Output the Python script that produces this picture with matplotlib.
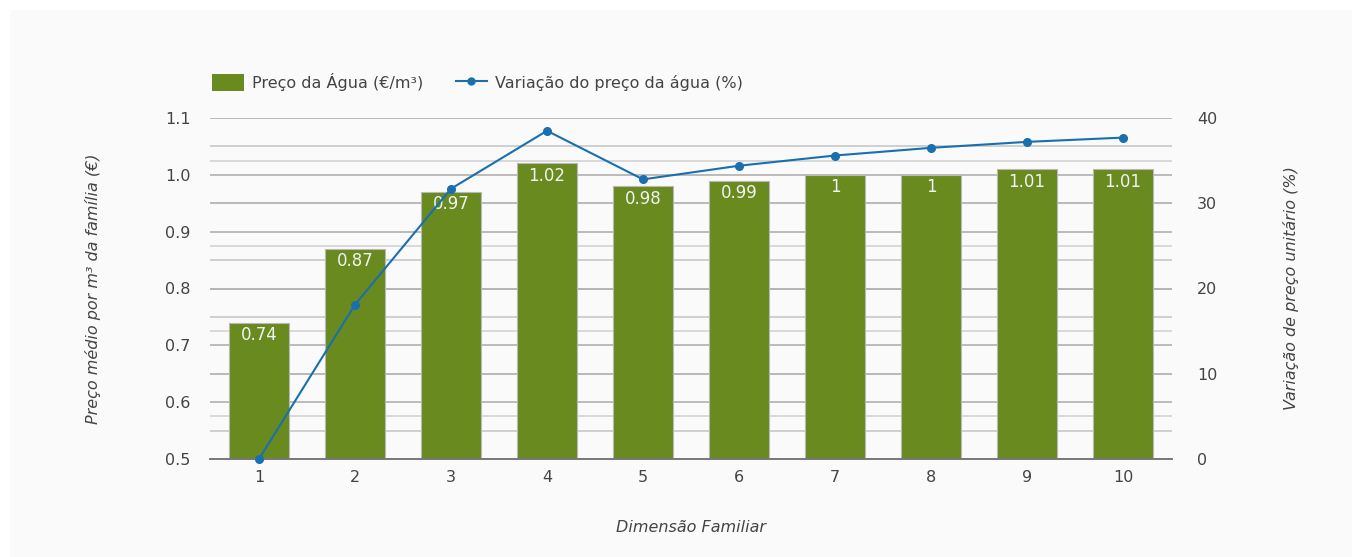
import matplotlib
matplotlib.use("Agg")
import matplotlib.pyplot as plt
from matplotlib.patches import Rectangle
from matplotlib.lines import Line2D

plt.rcParams["font.family"] = ["DejaVu Sans"]

dimensoes = [1, 2, 3, 4, 5, 6, 7, 8, 9, 10]
preco_agua = [0.74, 0.87, 0.97, 1.02, 0.98, 0.99, 1.00, 1.00, 1.01, 1.01]
rotulos_preco = ["0.74", "0.87", "0.97", "1.02", "0.98", "0.99", "1", "1", "1.01", "1.01"]
variacao_preco = [0.0, 18.1, 31.7, 38.5, 32.8, 34.4, 35.6, 36.5, 37.2, 37.7]

BAR_COLOR = "#688a1e"
LINE_COLOR = "#1a6faf"
TEXT_COLOR = "#444444"

Y1 = (0.5, 1.1)
Y2 = (0, 40)

fig = plt.figure(figsize=(13.62, 5.57), dpi=100, facecolor="white")
fig.patches.append(Rectangle((10 / 1362, 0), 1342 / 1362, 547 / 557,
                             transform=fig.transFigure, facecolor="#fafafa",
                             edgecolor="none", zorder=-10))

ax = fig.add_axes([210 / 1362, 98 / 557, 962 / 1362, 341 / 557])
ax.set_facecolor("none")
ax2 = ax.twinx()
ax2.set_facecolor("none")


def right_to_left(v):
    return Y1[0] + (v - Y2[0]) / (Y2[1] - Y2[0]) * (Y1[1] - Y1[0])


# grelha de ambos os eixos, desenhada por baixo das barras
for v in [0.55, 0.6, 0.65, 0.7, 0.75, 0.8, 0.85, 0.9, 0.95, 1.0, 1.05, 1.1]:
    major = abs(round(v * 10) - v * 10) < 1e-6
    ax.axhline(v, color="#aaaaaa" if major else "#c4c4c4", linewidth=1.1, zorder=0)
for v in [5, 10, 15, 20, 25, 30, 35]:
    ax.axhline(right_to_left(v), color="#b4b4b4" if v % 10 == 0 else "#d0d0d0",
               linewidth=1.1, zorder=0)

bars = ax.bar(dimensoes, preco_agua, width=0.625, bottom=0, color=BAR_COLOR,
              edgecolor="#b8b8b8", linewidth=0.8, zorder=2)
ax.set_ylim(*Y1)
ax.set_xlim(0.49, 10.51)
for b, lab in zip(bars, rotulos_preco):
    ax.text(b.get_x() + b.get_width() / 2, b.get_height() - 0.006, lab,
            ha="center", va="top", color="#f2f2f2", fontsize=12, zorder=3)

ax2.plot(dimensoes, variacao_preco, color=LINE_COLOR, linewidth=1.5,
         marker="o", markersize=5.5, zorder=4, clip_on=False)
ax2.set_ylim(*Y2)
ax2.set_yticks([0, 10, 20, 30, 40])

for a in (ax, ax2):
    for s in ("top", "left", "right"):
        a.spines[s].set_visible(False)
    a.spines["bottom"].set_color("#777777")
    a.spines["bottom"].set_linewidth(1.2)
    a.tick_params(axis="y", length=0, labelsize=11.5, colors=TEXT_COLOR, pad=14)

ax.set_yticks([0.5, 0.6, 0.7, 0.8, 0.9, 1.0, 1.1])
ax.set_yticklabels(["0.5", "0.6", "0.7", "0.8", "0.9", "1.0", "1.1"])
ax.set_xticks(dimensoes)
ax.tick_params(axis="x", length=0, labelsize=11.5, colors=TEXT_COLOR, pad=8)
ax2.tick_params(axis="y", pad=18)

ax.set_xlabel("Dimensão Familiar", fontsize=11.5, style="italic",
              color=TEXT_COLOR, labelpad=25)
ax.set_ylabel("Preço médio por m³ da família (€)", fontsize=11.5, style="italic",
              color=TEXT_COLOR, labelpad=46)
ax2.set_ylabel("Variação de preço unitário (%)", fontsize=11.5, style="italic",
               color=TEXT_COLOR, labelpad=47)

handles = [
    Rectangle((0, 0), 1, 1, facecolor=BAR_COLOR, edgecolor="none"),
    Line2D([0], [0], color=LINE_COLOR, linewidth=1.5, marker="o", markersize=5),
]
fig.legend(handles, ["Preço da Água (€/m³)", "Variação do preço da água (%)"],
           loc="center left", bbox_to_anchor=(198 / 1362, 1 - 82 / 557),
           ncol=2, frameon=False, fontsize=11.5, handlelength=2.0,
           handleheight=1.2, columnspacing=2.0, handletextpad=0.5,
           labelcolor=TEXT_COLOR)

fig.savefig("out.png", dpi=100, facecolor=fig.get_facecolor())
